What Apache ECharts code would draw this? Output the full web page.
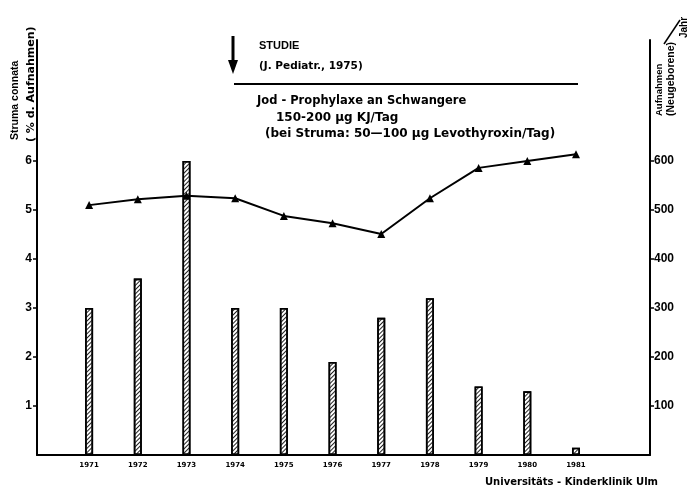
<!DOCTYPE html>
<html>
<head>
<meta charset="utf-8">
<script src="https://cdn.jsdelivr.net/npm/echarts@6/dist/echarts.min.js"></script>
<style>html,body{margin:0;padding:0;background:#fff}#c{width:692px;height:492px}</style>
</head>
<body>
<div id="c"></div>
<script>
var years = [1971, 1972, 1973, 1974, 1975, 1976, 1977, 1978, 1979, 1980, 1981];
var strumaPct = [3.0, 3.6, 6.0, 3.0, 3.0, 1.9, 2.8, 3.2, 1.4, 1.3, 0.15];
var admissions = [510, 522, 529, 524, 488, 473, 451, 524, 586, 600, 614];
var leftTicks = [1, 2, 3, 4, 5, 6];
var rightTicks = [100, 200, 300, 400, 500, 600];

var FONT = '"Liberation Sans", Arial, sans-serif';
var DFONT = '"DejaVu Sans", sans-serif';
var chart = echarts.init(document.getElementById('c'));

function pairs(vals) { return years.map(function (y, i) { return [y, vals[i]]; }); }

chart.setOption({
  animation: false,
  backgroundColor: '#fff',
  grid: { left: 37, right: 42, top: 40, bottom: 37 },
  xAxis: {
    type: 'value', min: 1969.93, max: 1982.52,
    splitLine: { show: false },
    axisLine: { lineStyle: { color: '#000', width: 2 } },
    axisTick: { show: false },
    axisLabel: {
      customValues: years, color: '#000', fontFamily: DFONT, fontWeight: 'bold',
      fontSize: 7, margin: 7, formatter: function (v) { return String(v); }
    }
  },
  yAxis: [
    {
      type: 'value', min: 0, max: 8.47, position: 'left',
      splitLine: { show: false },
      axisLine: { show: true, lineStyle: { color: '#000', width: 2 } },
      axisTick: { show: true, customValues: leftTicks, length: 4, inside: false, lineStyle: { color: '#000', width: 1.5 } },
      axisLabel: { customValues: leftTicks, color: '#000', fontFamily: FONT, fontWeight: 'bold', fontSize: 12, margin: 5 }
    },
    {
      type: 'value', min: 0, max: 847, position: 'right',
      splitLine: { show: false },
      axisLine: { show: true, lineStyle: { color: '#000', width: 2 } },
      axisTick: { show: true, customValues: rightTicks, length: 4, lineStyle: { color: '#000', width: 1.5 } },
      axisLabel: { customValues: rightTicks, color: '#000', fontFamily: FONT, fontWeight: 'bold', fontSize: 12, margin: 4 }
    }
  ],
  series: [
    {
      type: 'bar', yAxisIndex: 0, barWidth: 8,
      data: pairs(strumaPct),
      itemStyle: {
        color: '#fff', borderColor: '#000', borderWidth: 1.6,
        decal: { color: '#222', dashArrayX: [1, 0], dashArrayY: [1, 2], rotation: -Math.PI / 4, symbol: 'rect' }
      }
    },
    {
      type: 'line', yAxisIndex: 1,
      data: pairs(admissions),
      symbol: 'triangle', symbolSize: 8,
      lineStyle: { color: '#000', width: 2 },
      itemStyle: { color: '#000' },
      z: 5
    }
  ],
  graphic: [
    { type: 'text', rotation: Math.PI / 2, x: 15, y: 140,
      style: { text: 'Struma connata', fill: '#000', font: 'bold 10.5px ' + FONT, textAlign: 'left', textVerticalAlign: 'middle' } },
    { type: 'text', rotation: Math.PI / 2, x: 31, y: 142,
      style: { text: '( % d. Aufnahmen)', fill: '#000', font: 'bold 11px ' + DFONT, textAlign: 'left', textVerticalAlign: 'middle' } },
    { type: 'text', rotation: Math.PI / 2, x: 659, y: 116,
      style: { text: 'Aufnahmen', fill: '#000', font: 'bold 9.5px ' + FONT, textAlign: 'left', textVerticalAlign: 'middle' } },
    { type: 'text', rotation: Math.PI / 2, x: 671, y: 116,
      style: { text: '(Neugeborene)', fill: '#000', font: 'bold 10.5px ' + FONT, textAlign: 'left', textVerticalAlign: 'middle' } },
    { type: 'line', shape: { x1: 664, y1: 44, x2: 680, y2: 20 }, style: { stroke: '#000', lineWidth: 1.5 } },
    { type: 'text', rotation: Math.PI / 2, x: 684, y: 38,
      style: { text: 'Jahr', fill: '#000', font: 'bold 10px ' + FONT, textAlign: 'left', textVerticalAlign: 'middle' } },
    { type: 'line', shape: { x1: 233, y1: 36, x2: 233, y2: 62 }, style: { stroke: '#000', lineWidth: 3 } },
    { type: 'polygon', shape: { points: [[228, 60], [238, 60], [233, 74]] }, style: { fill: '#000' } },
    { type: 'text', x: 259, y: 46,
      style: { text: 'STUDIE', fill: '#000', font: 'bold 11px ' + FONT, textVerticalAlign: 'middle' } },
    { type: 'text', x: 259, y: 66,
      style: { text: '(J. Pediatr., 1975)', fill: '#000', font: 'bold 10.5px ' + DFONT, textVerticalAlign: 'middle' } },
    { type: 'line', shape: { x1: 234, y1: 84, x2: 578, y2: 84 }, style: { stroke: '#000', lineWidth: 2 } },
    { type: 'text', x: 257, y: 101,
      style: { text: 'Jod - Prophylaxe an Schwangere', fill: '#000', font: 'bold 11.5px ' + DFONT, textVerticalAlign: 'middle' } },
    { type: 'text', x: 276, y: 118,
      style: { text: '150-200 µg KJ/Tag', fill: '#000', font: 'bold 12px ' + DFONT, textVerticalAlign: 'middle' } },
    { type: 'text', x: 265, y: 134,
      style: { text: '(bei Struma: 50—100 µg Levothyroxin/Tag)', fill: '#000', font: 'bold 12px ' + DFONT, textVerticalAlign: 'middle' } },
    { type: 'text', x: 485, y: 482,
      style: { text: 'Universitäts - Kinderklinik Ulm', fill: '#000', font: 'bold 10px ' + DFONT, textVerticalAlign: 'middle' } }
  ]
});
</script>
</body>
</html>
